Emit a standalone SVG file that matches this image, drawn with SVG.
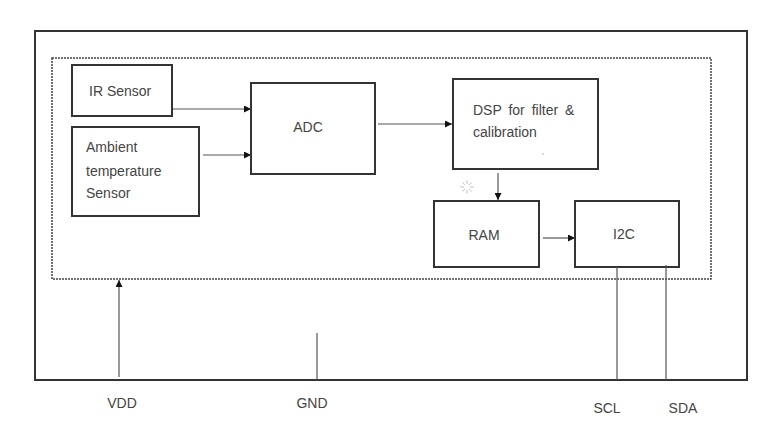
<svg xmlns="http://www.w3.org/2000/svg" width="768" height="422" viewBox="0 0 768 422">
<style>
.box{fill:#fff;stroke:#333;stroke-width:2}
.lbl{font-family:"Liberation Sans",Arial,sans-serif;font-size:14px;fill:#444}
.mid{text-anchor:middle}
.con{stroke:#555;stroke-width:1.2;fill:none}
</style>
<defs>
<marker id="ah" viewBox="0 0 10 10" refX="10" refY="5" markerWidth="7" markerHeight="7" markerUnits="userSpaceOnUse" orient="auto">
<path d="M0,0 L10,5 L0,10 z" fill="#111"/>
</marker>
</defs>
<rect width="768" height="422" fill="#fff"/>
<g id="chip">
<rect x="35" y="31" width="712" height="349" fill="none" stroke="#333" stroke-width="2"/>
</g>
<g id="core">
<rect x="52" y="58" width="659" height="221" fill="none" stroke="#444" stroke-width="1.5" stroke-dasharray="2 1"/>
</g>
<g id="ir">
<rect class="box" x="72" y="65" width="100" height="51"/>
<text class="lbl" x="89" y="96">IR Sensor</text>
</g>
<g id="ambient">
<rect class="box" x="72" y="127" width="127" height="89"/>
<text class="lbl" x="86" y="152">Ambient</text>
<text class="lbl" x="86" y="176">temperature</text>
<text class="lbl" x="86" y="198">Sensor</text>
</g>
<g id="adc">
<rect class="box" x="251" y="83" width="124" height="91"/>
<text class="lbl mid" x="308" y="132">ADC</text>
</g>
<g id="dsp">
<rect class="box" x="453" y="79" width="145" height="90"/>
<text class="lbl" x="473" y="115" word-spacing="3">DSP for filter &amp;</text>
<text class="lbl" x="473" y="137">calibration</text>
<circle cx="543" cy="154" r="0.7" fill="#999"/>
</g>
<g id="ram">
<rect class="box" x="434" y="201" width="105" height="66"/>
<text class="lbl mid" x="484" y="240">RAM</text>
</g>
<g id="i2c">
<rect class="box" x="575" y="201" width="104" height="66"/>
<text class="lbl mid" x="624" y="239">I2C</text>
</g>
<g id="spinner" stroke="#bbb" stroke-width="1" stroke-linecap="round">
<line x1="467" y1="181" x2="467" y2="183.5"/>
<line x1="471.2" y1="182.8" x2="469.5" y2="184.5"/>
<line x1="473" y1="187" x2="470.5" y2="187"/>
<line x1="471.2" y1="191.2" x2="469.5" y2="189.5"/>
<line x1="467" y1="193" x2="467" y2="190.5"/>
<line x1="462.8" y1="191.2" x2="464.5" y2="189.5"/>
<line x1="461" y1="187" x2="463.5" y2="187"/>
<line x1="462.8" y1="182.8" x2="464.5" y2="184.5"/>
</g>
<g id="connectors">
<line class="con" x1="173" y1="109" x2="251" y2="109" marker-end="url(#ah)"/>
<line class="con" x1="203" y1="155" x2="251" y2="155" marker-end="url(#ah)"/>
<line class="con" x1="378" y1="124" x2="452" y2="124" marker-end="url(#ah)"/>
<line class="con" x1="498" y1="173" x2="498" y2="200" marker-end="url(#ah)"/>
<line class="con" x1="543" y1="238" x2="575" y2="238" marker-end="url(#ah)"/>
<line class="con" x1="119" y1="377" x2="119" y2="280" marker-end="url(#ah)"/>
<line class="con" x1="317" y1="333" x2="317" y2="380"/>
<line class="con" x1="617" y1="267" x2="617" y2="380"/>
<line class="con" x1="666" y1="265" x2="666" y2="380"/>
</g>
<g id="pins">
<text class="lbl mid" x="122" y="408">VDD</text>
<text class="lbl mid" x="312" y="408">GND</text>
<text class="lbl mid" x="607" y="413">SCL</text>
<text class="lbl mid" x="683" y="413">SDA</text>
</g>
</svg>
